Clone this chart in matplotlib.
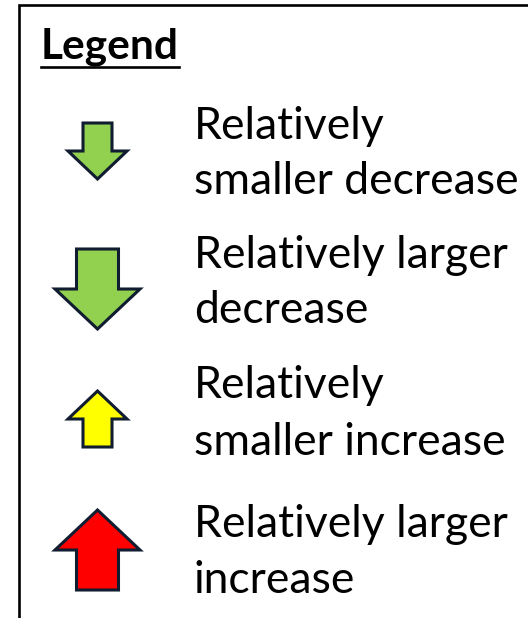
"""
Legend panel: arrow symbols for relative change
"""

import matplotlib.pyplot as plt
from matplotlib.patches import Polygon

# legend entries
directions = ["down", "down", "up", "up"]
magnitudes = ["smaller", "larger", "smaller", "larger"]
line1 = ["Relatively", "Relatively larger", "Relatively", "Relatively larger"]
line2 = ["smaller decrease", "decrease", "smaller increase", "increase"]
fill_colors = ["#92D050", "#92D050", "#FFFF00", "#FF0000"]

EDGE = "#101C30"
FONT = ["Lato", "DejaVu Sans"]

# arrow shape per magnitude: half head width, half stem width, head length, total length (px)
SHAPES = {
    "smaller": dict(head=29.5, stem=14.5, head_len=28, length=56),
    "larger": dict(head=42.5, stem=21, head_len=40, length=80),
}


def arrow_points(cx, cy, direction, shape):
    hw, sw = shape["head"], shape["stem"]
    hl, L = shape["head_len"], shape["length"]
    s = 1 if direction == "down" else -1
    top = cy - s * L / 2
    tip = cy + s * L / 2
    base = tip - s * hl
    return [
        (cx - sw, top), (cx + sw, top), (cx + sw, base), (cx + hw, base),
        (cx, tip), (cx - hw, base), (cx - sw, base),
    ]


def main():
    fig = plt.figure(figsize=(5.28, 6.18), dpi=100)
    ax = fig.add_axes([0, 0, 1, 1])
    ax.set_xlim(0, 528)
    ax.set_ylim(618, 0)
    ax.axis("off")

    # frame (runs off the right and bottom edges)
    ax.plot([19, 19, 540], [640, 5, 5], color="black", lw=1.9,
            solid_joinstyle="miter")

    title = ax.text(41, 59, "Legend", fontsize=30.5, fontweight="bold",
                    family=FONT, va="baseline", ha="left")
    fig.canvas.draw()
    bb = title.get_window_extent().transformed(ax.transData.inverted())
    ax.plot([bb.x0, bb.x1], [67, 67], color="black", lw=1.9)

    arrow_centres = [151, 289, 419, 550]
    base1 = [139, 268, 398, 537]
    base2 = [194, 323, 455, 593]
    for i in range(len(directions)):
        shape = SHAPES[magnitudes[i]]
        pts = arrow_points(97.5, arrow_centres[i], directions[i], shape)
        ax.add_patch(Polygon(pts, closed=True, facecolor=fill_colors[i],
                             edgecolor=EDGE, lw=2.2, joinstyle="miter"))
        ax.text(194, base1[i], line1[i], fontsize=32, family=FONT,
                va="baseline", ha="left")
        ax.text(194, base2[i], line2[i], fontsize=32, family=FONT,
                va="baseline", ha="left")

    fig.savefig("out.png", dpi=100)
    plt.close(fig)


if __name__ == "__main__":
    main()
